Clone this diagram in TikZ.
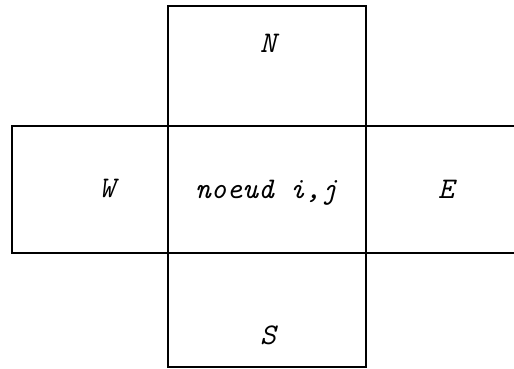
\documentclass[tikz,border=0pt]{standalone}
\begin{document}
\begin{tikzpicture}[x=1pt,y=-1pt,
  boxline/.style={line width=1.6pt,line join=miter,black},
  lbl/.style={font=\fontsize{30}{36}\selectfont\ttfamily\itshape,anchor=base,inner sep=0pt}]
\useasboundingbox (0,0) rectangle (514,369);
% vertical box (N - centre - S)
\draw[boxline] (168,6) rectangle (366,367);
% horizontal band (W - centre - E), open at the right edge
\draw[boxline] (514,126) -- (12,126) -- (12,253) -- (514,253);
% labels
\node[lbl] (n) at (268,53) {N};
\node[lbl] (w) at (107,197) {W};
\node[lbl] (c) at (266,198) {noeud i,j};
\node[lbl] (e) at (446,198) {E};
\node[lbl] (s) at (268,344) {S};
\end{tikzpicture}
\end{document}
